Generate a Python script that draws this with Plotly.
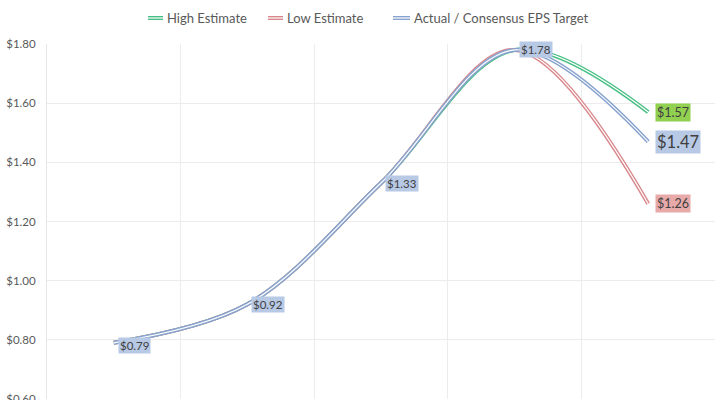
import plotly.graph_objects as go

periods = ["P1", "P2", "P3", "P4", "P5"]
high_est = [0.79, 0.92, 1.33, 1.78, 1.57]
low_est = [0.79, 0.92, 1.33, 1.78, 1.26]
actual = [0.79, 0.92, 1.33, 1.78, 1.47]
y_ticks = [0.6, 0.8, 1.0, 1.2, 1.4, 1.6, 1.8]
y_tick_text = ["$0.60", "$0.80", "$1.00", "$1.20", "$1.40", "$1.60", "$1.80"]

series = [
    ("High Estimate", high_est, "#48bf84"),
    ("Low Estimate", low_est, "#d9878b"),
    ("Actual / Consensus EPS Target", actual, "#88a3cf"),
]

W, H = 728, 412
ML, MR, MT, MB = 47, 13, 44, 13
PW, PH = W - ML - MR, H - MT - MB


def px_x(px):
    return (px - ML) / PW


def px_y(py):
    return (H - MB - py) / PH


fig = go.Figure()
for name, vals, col in series:
    fig.add_trace(go.Scatter(x=periods, y=vals, name=name, mode="lines", showlegend=False,
                             line=dict(color=col, width=4, shape="spline", smoothing=1.0)))
    fig.add_trace(go.Scatter(x=periods, y=vals, mode="lines", showlegend=False, hoverinfo="skip",
                             line=dict(color="white", width=1.2, shape="spline", smoothing=1.0)))

font_fam = "Lato, 'Open Sans', sans-serif"

# manual legend
legend_pos = [(148, 163), (268, 283), (393, 410)]
ly = px_y(18)
for (name, vals, col), (x0, x1) in zip(series, legend_pos):
    fig.add_shape(type="line", xref="paper", yref="paper", x0=px_x(x0), x1=px_x(x1), y0=ly, y1=ly,
                  line=dict(color=col, width=4))
    fig.add_shape(type="line", xref="paper", yref="paper", x0=px_x(x0), x1=px_x(x1), y0=ly, y1=ly,
                  line=dict(color="white", width=1.2))
    fig.add_annotation(xref="paper", yref="paper", x=px_x(x1 + 2), y=ly, text=name, showarrow=False,
                       xanchor="left", yanchor="middle",
                       font=dict(family=font_fam, size=13, color="#595959"))

# data labels for actual series (first four)
for i in range(4):
    fig.add_annotation(x=periods[i], y=actual[i], text="$%.2f" % actual[i], showarrow=False,
                       xanchor="left", yanchor="middle", xshift=4, yshift=-3 if i == 0 else 0,
                       bgcolor="#b8c9e6", font=dict(family=font_fam, size=11.5, color="#404040"),
                       borderpad=1)
# end labels
end_labels = [(high_est[4], "#92d050", 12.5), (actual[4], "#b8c9e6", 16.5), (low_est[4], "#e8a9a9", 12.5)]
for val, bg, sz in end_labels:
    fig.add_annotation(x=periods[4], y=val, text="$%.2f" % val, showarrow=False,
                       xanchor="left", yanchor="middle", xshift=7,
                       bgcolor=bg, font=dict(family=font_fam, size=sz, color="#404040"),
                       borderpad=1)

fig.update_layout(
    width=W, height=H,
    margin=dict(l=ML, r=MR, t=MT, b=MB, autoexpand=False),
    paper_bgcolor="white", plot_bgcolor="white",
    font=dict(family=font_fam, color="#595959", size=11),
    showlegend=False,
)
fig.update_xaxes(type="category", range=[-0.5, 4.5], tickson="boundaries", showgrid=True,
                 gridcolor="#ececec", gridwidth=1, showticklabels=False, ticks="",
                 showline=False, zeroline=False, automargin=False)
fig.update_yaxes(range=[0.6, 1.8], tickvals=y_ticks, ticktext=y_tick_text, showgrid=True,
                 gridcolor="#ececec", showline=True, linecolor="#e6e6e6", zeroline=False,
                 ticks="", tickfont=dict(size=11.5, color="#595959"), automargin=False,
                 ticklabelstandoff=8)

fig.write_html("out.html", config={"displayModeBar": False},
               post_script="document.body.style.margin='0';document.body.style.overflow='hidden';")
